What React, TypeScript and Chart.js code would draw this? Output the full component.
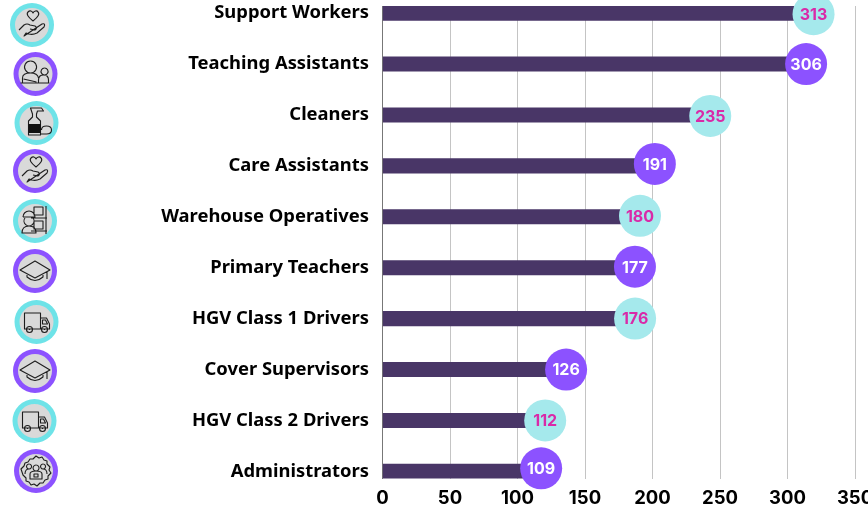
import React, { useEffect, useRef } from "react";
import { Chart, registerables } from "chart.js";

Chart.register(...registerables);

const categories = ["Support Workers", "Teaching Assistants", "Cleaners", "Care Assistants", "Warehouse Operatives", "Primary Teachers", "HGV Class 1 Drivers", "Cover Supervisors", "HGV Class 2 Drivers", "Administrators"];
const values = [313, 306, 235, 191, 180, 177, 176, 126, 112, 109];
const iconKinds = ["care", "teach", "clean", "care", "warehouse", "cap", "truck", "cap", "truck", "admin"];

const TEAL = "#a5e9ec";
const PURPLE = "#8c52ff";
const PINK = "#d92aa8";
const RING_TEAL = "#6ee3e8";
const BAR = "#493667";
const FONT = "Inter, sans-serif";
const LABEL_FONT = "'Noto Sans', sans-serif";
const ICON_CENTERS = [[32, 25], [35.5, 74], [36.5, 123], [35, 171], [35, 221], [35, 271], [36.5, 322], [35, 371], [34.5, 421], [36, 471]];
// badge nudges in pixels relative to the end of each bar
const BADGE_DX = [8.5, 10.5, 10.5, 14.5, 14.5, 13.5, 15, 13.5, 11.5, 11.5];
const BADGE_DY = [1, 0, 1, -2, -1, -1, 0, 0, 0, -3];

function stroke(c: CanvasRenderingContext2D, path: string, ox: number, oy: number, fill?: string) {
  c.save();
  c.translate(ox, oy);
  c.lineWidth = 1.1;
  c.lineJoin = "round";
  c.strokeStyle = "#1d1d1d";
  c.stroke(new Path2D(path));
  if (fill) {
    c.fillStyle = "#111111";
    c.fill(new Path2D(fill));
  }
  c.restore();
}

const HAND = "M-13 5 L-8 0 Q-5 -2 -2 0 L3 1 Q6 3 3 5 L-2 4 M4 3 L10 -1 Q14 -2 12 2 L5 8 Q1 10 -3 9 L-6 8 L-8 11 Z M1 -4 C-4 -8 -6 -11 -4 -13 C-2 -15 0 -14 1 -12 C2 -14 5 -15 6 -13 C8 -11 6 -8 1 -4 Z";
const CAP = "M0 -10 L15 -1 L0 7 L-15 -1 Z M-8 4 L-8 6 Q0 13 8 6 L8 4 M12 0 L12 8";
const TRUCK = "M-12 -9 H4 V7 H-12 Z M4 -4 H10 L13 2 V7 H4 M6 -2 H9 L11 2 H6 Z M-4 7.5 A3 3 0 1 0 -10 7.5 A3 3 0 1 0 -4 7.5 M11 7.5 A3 3 0 1 0 5 7.5 A3 3 0 1 0 11 7.5 M-7.5 7.5 H-6.5 M7.5 7.5 H8.5";
const ICONS: Record<string, string> = {
  care: HAND,
  cap: CAP,
  truck: TRUCK,
  teach: "M-5 -13 A6 6 0 1 0 -4.9 -13 M-13 9 V4 Q-13 -1 -5 -1 Q2 -1 3 4 M9 -6 A3.5 3.5 0 1 0 9.1 -6 M3 9 V6 Q3 1 8 1 Q13 1 13 6 V9 M-15 9 H14 M-12 5 L1 8",
  clean: "M-6 -15 H5 L7 -12 H1 L0 -9 V-6 L4 -2 V12 H-8 V-2 L-4 -6 V-9 Z M5 7 Q5 3 10 3 Q15 3 15 7 Q15 11 10 11 H4",
  warehouse: "M-1 -14 H8 V-6 H-1 Z M-1 0 H8 V8 H-1 Z M11 -15 V13 M-4 -3 H12 M-4 10 H12 M-12 -4 A6 6 0 0 1 0 -4 H-12 M-10 -3 A5 5 0 1 0 -2 -3 M-13 12 Q-13 5 -6 5 Q1 5 1 12 Z",
  admin: "M0 -15 L3 -13 L6 -14 L8 -11 L11 -10 L11 -7 L14 -4 L13 -1 L15 2 L12 5 L12 8 L9 9 L7 12 L4 12 L1 15 L-2 13 L-5 14 L-7 11 L-10 10 L-10 7 L-13 4 L-14 1 L-15 -2 L-12 -5 L-11 -8 L-8 -9 L-6 -12 L-3 -12 Z M0 -6 A3 3 0 1 0 .1 -6 M-7 -7 A2.5 2.5 0 1 0 -6.9 -7 M7 -7 A2.5 2.5 0 1 0 7.1 -7 M-6 8 V3 Q-6 0 0 0 Q6 0 6 3 V8 Z M-11 3 Q-11 -2 -7 -2 M11 3 Q11 -2 7 -2 M-2 3 H2 V6 H-2 Z",
};
const ICON_FILLS: Record<string, string> = { clean: "M-8 1 H4 V10 H-8 Z" };

const decorPlugin = {
  id: "decor",
  afterDatasetsDraw(chart: any) {
    const { ctx: c, scales } = chart;
    c.save();
    values.forEach((v, i) => {
      const x = scales.x.getPixelForValue(v) + BADGE_DX[i];
      const y = scales.y.getPixelForValue(i) + BADGE_DY[i];
      const even = i % 2 === 0;
      c.beginPath();
      c.arc(x, y, 21, 0, Math.PI * 2);
      c.fillStyle = even ? TEAL : PURPLE;
      c.fill();
      c.fillStyle = even ? PINK : "#ffffff";
      c.font = `700 16px ${FONT}`;
      c.textAlign = "center";
      c.textBaseline = "middle";
      c.fillText(String(v), x, y + 1);
    });
    ICON_CENTERS.forEach(([x, y], i) => {
      c.beginPath();
      c.arc(x, y, 22, 0, Math.PI * 2);
      c.fillStyle = i % 2 === 0 ? RING_TEAL : PURPLE;
      c.fill();
      c.beginPath();
      c.arc(x, y, 17, 0, Math.PI * 2);
      c.fillStyle = "#d9d9d9";
      c.fill();
      stroke(c, ICONS[iconKinds[i]], x, y, ICON_FILLS[iconKinds[i]]);
    });
    c.restore();
  },
};

export default function App() {
  const ref = useRef<HTMLCanvasElement>(null);
  useEffect(() => {
    document.body.style.margin = "0";
    const chart = new Chart(ref.current!, {
      type: "bar",
      plugins: [decorPlugin],
      data: {
        datasets: [{
          data: values.map((v, i) => ({ x: v, y: i })),
          backgroundColor: BAR,
          barThickness: 14.5,
        }],
      },
      options: {
        indexAxis: "y",
        responsive: false,
        animation: false,
        layout: { padding: { top: 6, left: 0, right: 45, bottom: 0 } },
        plugins: { legend: { display: false }, tooltip: { enabled: false } },
        scales: {
          x: {
            type: "linear",
            min: 0,
            max: 350,
            afterFit(s: any) { s.height = 29.5; s.paddingRight = 0; s.paddingLeft = 0; },
            ticks: {
              stepSize: 50,
              maxRotation: 0,
              padding: 9,
              color: "#000000",
              font: { family: FONT, weight: 700, size: 18.5 },
            },
            grid: { color: "#c4c4c4", lineWidth: 1, drawTicks: false },
            border: { display: false },
          },
          y: {
            type: "linear",
            reverse: true,
            offset: false,
            min: -0.14,
            max: 9.14,
            afterFit(s: any) { s.width = 382.5; s.paddingTop = 0; s.paddingBottom = 0; },
            ticks: {
              stepSize: 1,
              includeBounds: false,
              padding: 13.5,
              color: "#000000",
              font: { family: LABEL_FONT, weight: 700, size: 18.4 },
              callback: (v: any) => categories[v] ?? "",
            },
            grid: { display: false, drawTicks: false },
            border: { display: true, color: "#777777", width: 1 },
          },
        },
      },
    } as any);
    return () => chart.destroy();
  }, []);
  return (
    <div style={{ width: 868, height: 508, overflow: "hidden", position: "relative" }}>
      <canvas ref={ref} width={900} height={508} style={{ display: "block" }} />
    </div>
  );
}
